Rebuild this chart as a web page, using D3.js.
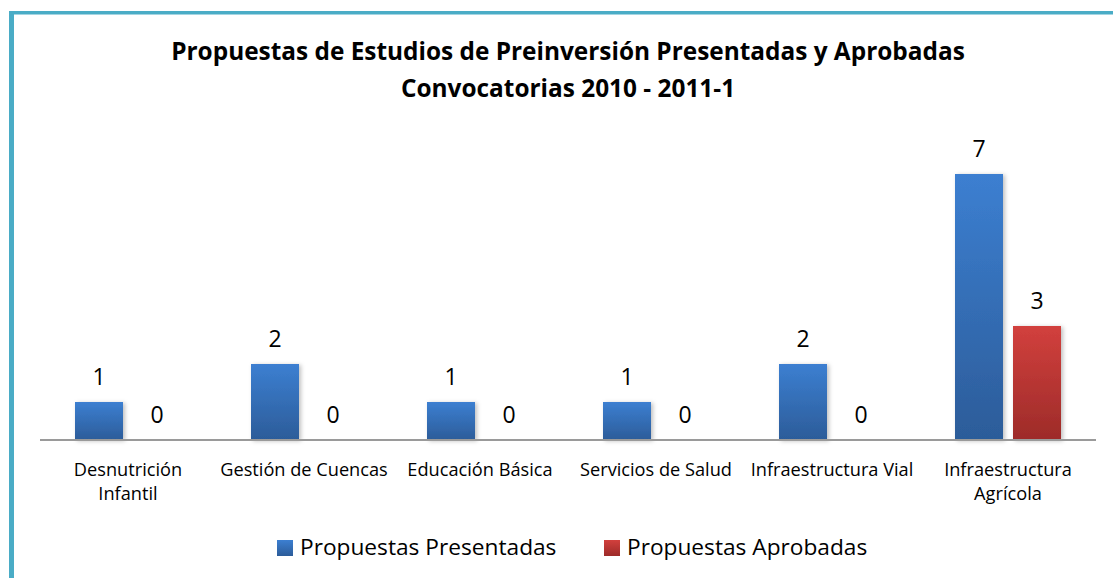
<!DOCTYPE html>
<html>
<head>
<meta charset="utf-8">
<script src="https://cdn.jsdelivr.net/npm/d3@7"></script>
<style>
  html, body { margin: 0; padding: 0; background: #fff; }
  svg { display: block; }
  text { font-family: "Open Sans", Lato, sans-serif; fill: #000; }
</style>
</head>
<body>
<svg id="chart" width="1113" height="578"></svg>
<script>
// Chart data
const categories = [
  ["Desnutrición", "Infantil"],
  ["Gestión de Cuencas"],
  ["Educación Básica"],
  ["Servicios de Salud"],
  ["Infraestructura Vial"],
  ["Infraestructura", "Agrícola"]
];
const seriesNames = ["Propuestas Presentadas", "Propuestas Aprobadas"];
const presentadas = [1, 2, 1, 1, 2, 7];
const aprobadas   = [0, 0, 0, 0, 0, 3];
const titleLines = [
  "Propuestas de Estudios de Preinversión Presentadas y Aprobadas",
  "Convocatorias 2010 - 2011-1"
];

const seriesValues = [presentadas, aprobadas];
const catKeys = categories.map(c => c.join(" "));

const svg = d3.select("#chart");
const W = 1113, H = 578;

// Gradients and shadow
const defs = svg.append("defs");
const grads = [
  { id: "gBlue", top: "#3c7fd1", bottom: "#2c5c99" },
  { id: "gRed",  top: "#d2403d", bottom: "#9d2b29" }
];
grads.forEach(g => {
  const lg = defs.append("linearGradient").attr("id", g.id)
    .attr("x1", 0).attr("y1", 0).attr("x2", 0).attr("y2", 1);
  lg.append("stop").attr("offset", "0%").attr("stop-color", g.top);
  lg.append("stop").attr("offset", "100%").attr("stop-color", g.bottom);
});
const f = defs.append("filter").attr("id", "shadow")
  .attr("x", "-20%").attr("y", "-10%").attr("width", "150%").attr("height", "130%");
f.append("feDropShadow").attr("dx", 2).attr("dy", 1).attr("stdDeviation", 2)
  .attr("flood-color", "#000").attr("flood-opacity", 0.25);

// Frame (top and left edges)
svg.append("rect").attr("x", 9).attr("y", 11).attr("width", W - 9).attr("height", 3.5).attr("fill", "#4aacc6");
svg.append("rect").attr("x", 9).attr("y", 11).attr("width", 5).attr("height", H - 11).attr("fill", "#4aacc6");

// Title
const title = svg.append("text").attr("text-anchor", "middle")
  .attr("font-weight", "bold").attr("font-size", 24.4);
titleLines.forEach((t, i) => {
  title.append("tspan").attr("x", 568).attr("y", 60 + i * 37).text(t);
});

// Scales
const x0 = d3.scaleBand().domain(catKeys).range([40, 1096]).padding(0);
const x1 = d3.scaleBand().domain(seriesNames)
  .range([35, x0.bandwidth() - 35]).paddingInner(10 / 58).paddingOuter(0);
const y = d3.scaleLinear().domain([0, 8]).range([440, 136]);
const fills = ["url(#gBlue)", "url(#gRed)"];

// Bars and value labels
const groups = svg.append("g").selectAll("g")
  .data(catKeys).join("g")
  .attr("transform", d => `translate(${x0(d)},0)`);

groups.each(function(cat, ci) {
  const g = d3.select(this);
  seriesNames.forEach((s, si) => {
    const v = seriesValues[si][ci];
    if (v > 0) {
      g.append("rect")
        .attr("x", x1(s)).attr("y", y(v))
        .attr("width", x1.bandwidth()).attr("height", y(0) - y(v))
        .attr("fill", fills[si]).attr("filter", "url(#shadow)");
    }
    g.append("text")
      .attr("x", x1(s) + x1.bandwidth() / 2)
      .attr("y", y(v) - 17)
      .attr("text-anchor", "middle").attr("font-size", 23)
      .text(v);
  });
});

// Category axis
const xAxis = svg.append("g").attr("transform", `translate(0,${y(0)})`)
  .call(d3.axisBottom(x0).tickSize(0).tickFormat(""));
xAxis.select(".domain").attr("stroke", "#9a9a9a").attr("stroke-width", 2)
  .attr("d", `M40,0H1096`);

const catLabels = svg.append("g").selectAll("text")
  .data(categories).join("text")
  .attr("text-anchor", "middle").attr("font-size", 18.2);
catLabels.each(function(lines, i) {
  const t = d3.select(this);
  const cx = x0(catKeys[i]) + x0.bandwidth() / 2;
  lines.forEach((ln, li) => {
    t.append("tspan").attr("x", cx).attr("y", 476 + li * 24).text(ln);
  });
});

// Legend
const legendItems = [
  { name: seriesNames[0], fill: fills[0], x: 277 },
  { name: seriesNames[1], fill: fills[1], x: 604 }
];
const lg = svg.append("g");
legendItems.forEach(it => {
  lg.append("rect").attr("x", it.x).attr("y", 540).attr("width", 16).attr("height", 16)
    .attr("fill", it.fill);
  lg.append("text").attr("x", it.x + 23).attr("y", 555)
    .attr("font-size", 22.7).text(it.name);
});
</script>
</body>
</html>
